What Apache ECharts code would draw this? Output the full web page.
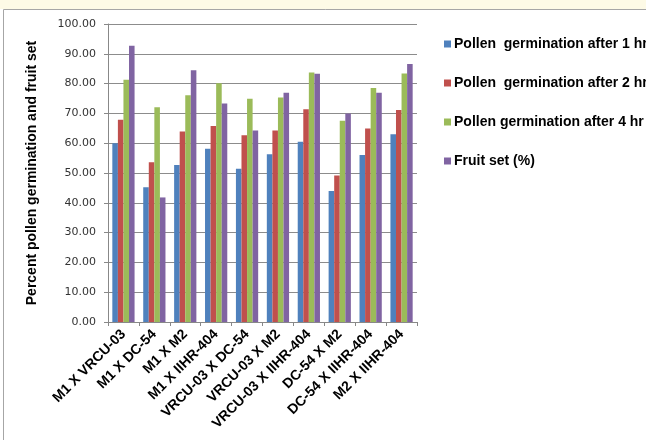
<!DOCTYPE html>
<html>
<head>
<meta charset="utf-8">
<script src="https://cdn.jsdelivr.net/npm/echarts@6/dist/echarts.min.js"></script>
<style>
  html, body { margin: 0; padding: 0; background: #ffffff; }
  #chart { width: 646px; height: 440px; }
</style>
</head>
<body>
<div id="chart"></div>
<script>
// Crosses
var categories = ['M1 X VRCU-03', 'M1 X DC-54', 'M1 X M2', 'M1 X IIHR-404', 'VRCU-03 X DC-54',
                  'VRCU-03 X M2', 'VRCU-03 X IIHR-404', 'DC-54 X M2', 'DC-54 X IIHR-404', 'M2 X IIHR-404'];

// Series values (%)
var germination1hr = [60.0, 45.2, 52.7, 58.1, 51.4, 56.3, 60.5, 44.0, 56.0, 63.0];
var germination2hr = [67.9, 53.6, 63.9, 65.8, 62.7, 64.3, 71.4, 49.2, 64.9, 71.1];
var germination4hr = [81.3, 72.1, 76.1, 80.1, 74.9, 75.3, 83.7, 67.5, 78.5, 83.4];
var fruitSet       = [92.7, 41.8, 84.5, 73.3, 64.3, 76.9, 83.3, 70.0, 76.9, 86.6];

var seriesNames = ['Pollen  germination after 1 hr', 'Pollen  germination after 2 hr',
                   'Pollen germination after 4 hr', 'Fruit set (%)'];
var seriesData = [germination1hr, germination2hr, germination4hr, fruitSet];
var colors = ['#4f81bd', '#c0504d', '#9bbb59', '#8064a2'];

var chart = echarts.init(document.getElementById('chart'), null, { renderer: 'canvas' });

var series = seriesNames.map(function (name, i) {
  return {
    name: name,
    type: 'bar',
    data: seriesData[i],
    barGap: '0%',
    barCategoryGap: '28%',
    itemStyle: { color: colors[i] },
    animation: false
  };
});

chart.setOption({
  backgroundColor: '#ffffff',
  color: colors,
  animation: false,
  graphic: [
    { type: 'rect', shape: { x: 0, y: 0, width: 646, height: 9 }, style: { fill: '#fdfae6' }, z: -10 },
    { type: 'rect', shape: { x: 3.5, y: 9.5, width: 700, height: 500 },
      style: { fill: 'none', stroke: '#a6a6a6', lineWidth: 1 }, z: -9 }
  ],
  grid: { left: 108, right: 229, top: 24, bottom: 118, containLabel: false },
  legend: {
    orient: 'vertical',
    left: 439,
    top: 32,
    itemWidth: 7,
    itemHeight: 7,
    itemGap: 25,
    icon: 'rect',
    textStyle: { fontFamily: 'Liberation Sans, Arial', fontWeight: 'bold', fontSize: 14, color: '#000', padding: [0, 0, 0, -2] },
    data: seriesNames
  },
  xAxis: {
    type: 'category',
    data: categories,
    axisLine: { lineStyle: { color: '#888888' } },
    axisTick: { show: true, length: 4, lineStyle: { color: '#888888' } },
    axisLabel: {
      interval: 0,
      rotate: 45,
      margin: 10,
      fontFamily: 'Liberation Sans, Arial',
      fontWeight: 'bold',
      fontSize: 14,
      color: '#000'
    }
  },
  yAxis: {
    type: 'value',
    min: 0,
    max: 100,
    interval: 10,
    name: 'Percent pollen germination and fruit set',
    nameLocation: 'middle',
    nameGap: 69,
    nameTextStyle: { fontFamily: 'Liberation Sans, Arial', fontWeight: 'bold', fontSize: 14, color: '#000' },
    axisLine: { show: true, lineStyle: { color: '#888888' } },
    axisTick: { show: true, length: 4, lineStyle: { color: '#888888' } },
    axisLabel: {
      formatter: function (v) { return v.toFixed(2); },
      fontFamily: 'DejaVu Sans',
      fontSize: 11,
      color: '#333',
      margin: 12
    },
    splitLine: { lineStyle: { color: '#8c8c8c' } }
  },
  series: series
});
</script>
</body>
</html>
